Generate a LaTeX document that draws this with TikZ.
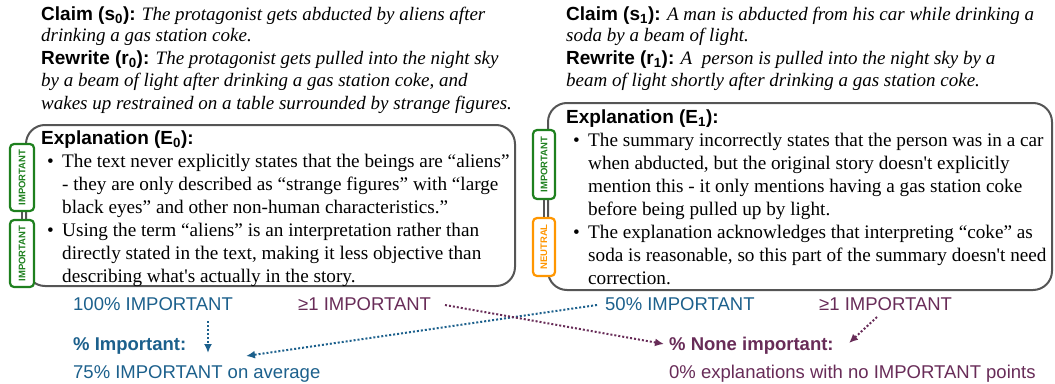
\documentclass[tikz,border=0pt]{standalone}
\usepackage{fontspec}
\setmainfont{Liberation Serif}[Ligatures=TeXOff]
\setsansfont{Liberation Sans}[Ligatures=TeXOff]
\usetikzlibrary{arrows.meta,calc}
\definecolor{cblue}{RGB}{28,96,140}
\definecolor{cpurple}{RGB}{104,44,88}
\definecolor{cgreen}{RGB}{30,128,30}
\definecolor{corange}{RGB}{255,150,0}
\definecolor{cgray}{RGB}{85,85,85}
\newcommand{\lblf}{\sffamily\bfseries}
\tikzset{
  txt/.style={anchor=base west, inner sep=0pt, font=\fontsize{19}{22}\selectfont},
  body/.style={anchor=base west, inner sep=0pt, font=\fontsize{19.2}{23}\selectfont},
  stat/.style={anchor=base west, inner sep=0pt, font=\sffamily\fontsize{18.5}{22}\selectfont},
  statb/.style={anchor=base west, inner sep=0pt, font=\sffamily\bfseries\fontsize{18.5}{22}\selectfont},
  ebox/.style={draw=cgray, line width=2pt, rounded corners=19pt},
  tagbox/.style={draw, line width=2.2pt, rounded corners=4pt, fill=white, rotate=90,
    inner sep=0pt, font=\sffamily\bfseries\fontsize{9.5}{10}\selectfont},
  tagline/.style={draw=cgray, line width=1.2pt},
  darrow/.style={line width=2pt, dash pattern=on 2pt off 2pt, -{Latex[length=9pt,width=8pt]}},
}
\begin{document}
\begin{tikzpicture}[x=1pt,y=-1pt]
\useasboundingbox (0,0) rectangle (1055,383);
% explanation boxes
\draw[ebox] (26,125) rectangle (515,286);
\draw[ebox] (548,103) rectangle (1052,290);
% tags left
\node[tagbox, draw=cgreen, text=cgreen, minimum width=67pt, minimum height=24pt] (t1) at (22,177.5) {IMPORTANT};
\node[tagbox, draw=cgreen, text=cgreen, minimum width=67pt, minimum height=24pt] (t2) at (22,253.5) {IMPORTANT};
\draw[tagline] (t1.west) -- (t2.east);
% tags right
\node[tagbox, draw=cgreen, text=cgreen, minimum width=69pt, minimum height=22pt] (t3) at (544,164.5) {IMPORTANT};
\node[tagbox, draw=corange, text=corange, minimum width=58pt, minimum height=22pt] (t4) at (544,247) {NEUTRAL};
\draw[tagline] (t3.west) -- (t4.east);
% left claim / rewrite
\node[txt] (l1) at (41,20) {{\lblf Claim (s\textsubscript{0}):} \textit{The protagonist gets abducted by aliens after}};
\node[txt] (l2) at (41,41) {\textit{drinking a gas station coke.}};
\node[txt] (l3) at (41,64) {{\lblf Rewrite (r\textsubscript{0}):} \textit{The protagonist gets pulled into the night sky}};
\node[txt] (l4) at (41,86) {\textit{by a beam of light after drinking a gas station coke, and}};
\node[txt] (l5) at (41,109) {\textit{wakes up restrained on a table surrounded by strange figures.}};
% right claim / rewrite
\node[txt] (r1) at (566,20) {{\lblf Claim (s\textsubscript{1}):} \textit{A man is abducted from his car while drinking a}};
\node[txt] (r2) at (566,41) {\textit{soda by a beam of light.}};
\node[txt] (r3) at (566,64) {{\lblf Rewrite (r\textsubscript{1}):} \textit{A\ \ person is pulled into the night sky by a}};
\node[txt] (r4) at (566,86) {\textit{beam of light shortly after drinking a gas station coke.}};
% left explanation
\node[txt] (e0) at (41,144) {\lblf Explanation (E\textsubscript{0}):};
\node[body] (b01) at (47,167) {•};
\node[body] (b02) at (47,236) {•};
\node[body] (e01) at (62,167) {The text never explicitly states that the beings are “aliens”};
\node[body] (e02) at (62,190) {- they are only described as “strange figures” with “large};
\node[body] (e03) at (62,213) {black eyes” and other non-human characteristics.”};
\node[body] (e04) at (62,236) {Using the term “aliens” is an interpretation rather than};
\node[body] (e05) at (62,259) {directly stated in the text, making it less objective than};
\node[body] (e06) at (62,282) {describing what's actually in the story.};
% right explanation
\node[txt] (e1) at (566,123) {\lblf Explanation (E\textsubscript{1}):};
\node[body] (b11) at (573,146) {•};
\node[body] (b12) at (573,238) {•};
\node[body] (e11) at (588,146) {The summary incorrectly states that the person was in a car};
\node[body] (e12) at (588,169) {when abducted, but the original story doesn't explicitly};
\node[body] (e13) at (588,192) {mention this - it only mentions having a gas station coke};
\node[body] (e14) at (588,215) {before being pulled up by light.};
\node[body] (e15) at (588,238) {The explanation acknowledges that interpreting “coke” as};
\node[body] (e16) at (588,261) {soda is reasonable, so this part of the summary doesn't need};
\node[body] (e17) at (588,284) {correction.};
% stats
\node[stat, text=cblue] (a100) at (73,310) {100\% IMPORTANT};
\node[stat, text=cpurple] (g1l) at (298,310) {≥1 IMPORTANT};
\node[stat, text=cblue] (a50) at (605,310) {50\% IMPORTANT};
\node[stat, text=cpurple] (g1r) at (819,310) {≥1 IMPORTANT};
\node[statb, text=cblue] (imp) at (73,350) {\% Important:};
\node[stat, text=cblue] (avg) at (73,378) {75\% IMPORTANT on average};
\node[statb, text=cpurple] (none) at (669,350) {\% None important:};
\node[stat, text=cpurple] (zero) at (669,378) {0\% explanations with no IMPORTANT points};
% arrow end points
\coordinate (p1s) at (208,321); \coordinate (p1e) at (208,353);
\coordinate (p2s) at (597,305); \coordinate (p2e) at (246,356);
\coordinate (p3s) at (445,305); \coordinate (p3e) at (664,344);
\coordinate (p4s) at (877,317); \coordinate (p4e) at (849,343);
\draw[darrow, cblue] (p1s) -- (p1e);
\draw[darrow, cblue] (p2s) -- (p2e);
\draw[darrow, cpurple] (p3s) -- (p3e);
\draw[darrow, cpurple] (p4s) -- (p4e);
\end{tikzpicture}
\end{document}
